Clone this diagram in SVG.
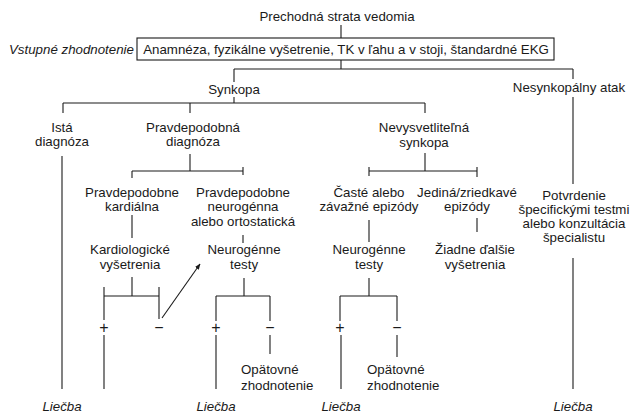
<svg xmlns="http://www.w3.org/2000/svg" width="630" height="413" viewBox="0 0 630 413">
<defs>
<style>
text{font-family:"Liberation Sans",Arial,sans-serif;font-size:13.3px;fill:#1a1a1a;text-anchor:middle}
.i{font-style:italic}
.l{text-anchor:start}
.s{font-size:16px}
.c line,.c path{stroke:#1a1a1a;stroke-width:1.1;fill:none}
.b{fill:#fff;stroke:#1a1a1a;stroke-width:1.1}
</style>
<marker id="ah" viewBox="0 0 10 10" refX="9" refY="5" markerWidth="6" markerHeight="6" orient="auto" markerUnits="userSpaceOnUse">
<path d="M0,1 L10,5 L0,9 z" fill="#1a1a1a"/>
</marker>
</defs>
<rect width="630" height="413" fill="#fff"/>
<g class="c" id="connectors">
<line x1="341" y1="25" x2="341" y2="38"/>
<line x1="341" y1="60" x2="341" y2="69"/>
<line x1="234" y1="69" x2="573" y2="69"/>
<line x1="234" y1="69" x2="234" y2="82"/>
<line x1="573" y1="69" x2="573" y2="79"/>
<line x1="234" y1="97" x2="234" y2="103"/>
<line x1="63" y1="103" x2="425" y2="103"/>
<line x1="63" y1="103" x2="63" y2="113"/>
<line x1="190" y1="103" x2="190" y2="113"/>
<line x1="425" y1="103" x2="425" y2="113"/>
<line x1="573" y1="97" x2="573" y2="184"/>
<line x1="62" y1="156" x2="62" y2="389"/>
<line x1="190" y1="154" x2="190" y2="171"/>
<line x1="132" y1="171" x2="243" y2="171"/>
<line x1="132" y1="171" x2="132" y2="178"/>
<line x1="243" y1="167" x2="243" y2="175"/>
<line x1="425" y1="153" x2="425" y2="171"/>
<line x1="369" y1="171" x2="477" y2="171"/>
<line x1="369" y1="167" x2="369" y2="176"/>
<line x1="477" y1="167" x2="477" y2="177"/>
<line x1="132" y1="215" x2="132" y2="238"/>
<line x1="243" y1="235" x2="243" y2="243"/>
<line x1="369" y1="220" x2="369" y2="242"/>
<line x1="477" y1="218" x2="477" y2="232"/>
<line x1="573" y1="258" x2="573" y2="389"/>
<line x1="132" y1="277" x2="132" y2="296"/>
<line x1="104" y1="296" x2="159" y2="296"/>
<line x1="104" y1="287" x2="104" y2="320"/>
<line x1="159" y1="287" x2="159" y2="319"/>
<line x1="244" y1="278" x2="244" y2="296"/>
<line x1="216" y1="296" x2="270" y2="296"/>
<line x1="216" y1="296" x2="216" y2="321"/>
<line x1="270" y1="296" x2="270" y2="321"/>
<line x1="369" y1="278" x2="369" y2="296"/>
<line x1="340" y1="296" x2="397" y2="296"/>
<line x1="340" y1="296" x2="340" y2="321"/>
<line x1="397" y1="296" x2="397" y2="321"/>
<line x1="104" y1="335" x2="104" y2="389"/>
<line x1="216" y1="335" x2="216" y2="389"/>
<line x1="341" y1="335" x2="341" y2="389"/>
<line x1="270" y1="335" x2="270" y2="354"/>
<line x1="397" y1="335" x2="397" y2="357"/>
<line x1="162" y1="318" x2="200" y2="264" marker-end="url(#ah)"/>
</g>
<g id="title"><text x="337" y="21">Prechodná strata vedomia</text></g>
<g id="vstupne"><text class="i l" x="9" y="54">Vstupné zhodnotenie</text></g>
<g id="box"><rect class="b" x="137" y="38" width="417" height="22"/><text x="346" y="54">Anamnéza, fyzikálne vyšetrenie, TK v ľahu a v stoji, štandardné EKG</text></g>
<g id="synkopa"><text x="234" y="94">Synkopa</text></g>
<g id="nesynkopalny"><text x="569" y="92">Nesynkopálny atak</text></g>
<g id="ista"><text x="62" y="132">Istá</text><text x="62" y="146">diagnóza</text></g>
<g id="pravdepodobna"><text x="193" y="132">Pravdepodobná</text><text x="193" y="146">diagnóza</text></g>
<g id="nevysvetlitelna"><text x="424" y="132">Nevysvetliteľná</text><text x="424" y="147">synkopa</text></g>
<g id="kardialna"><text x="132" y="197">Pravdepodobne</text><text x="132" y="211">kardiálna</text></g>
<g id="neurogenna"><text x="243" y="197">Pravdepodobne</text><text x="243" y="211">neurogénna</text><text x="243" y="226">alebo ortostatická</text></g>
<g id="caste"><text x="369" y="197">Časté alebo</text><text x="369" y="211">závažné epizódy</text></g>
<g id="jedina"><text x="467" y="197">Jediná/zriedkavé</text><text x="467" y="211">epizódy</text></g>
<g id="potvrdenie"><text x="574" y="200">Potvrdenie</text><text x="574" y="214">špecifickými testmi</text><text x="574" y="228">alebo konzultácia</text><text x="574" y="242">špecialistu</text></g>
<g id="kardiologicke"><text x="130" y="254">Kardiologické</text><text x="130" y="269">vyšetrenia</text></g>
<g id="neurotesty1"><text x="244" y="254">Neurogénne</text><text x="244" y="269">testy</text></g>
<g id="neurotesty2"><text x="369" y="254">Neurogénne</text><text x="369" y="269">testy</text></g>
<g id="ziadne"><text x="475" y="254">Žiadne ďalšie</text><text x="475" y="269">vyšetrenia</text></g>
<g id="signs">
<text class="s" x="104" y="333">+</text><text class="s" x="159" y="333">−</text>
<text class="s" x="216" y="333">+</text><text class="s" x="270" y="333">−</text>
<text class="s" x="340" y="333">+</text><text class="s" x="397" y="333">−</text>
</g>
<g id="opat1"><text class="l" x="241" y="374">Opätovné</text><text class="l" x="241" y="390">zhodnotenie</text></g>
<g id="opat2"><text class="l" x="367" y="374">Opätovné</text><text class="l" x="367" y="390">zhodnotenie</text></g>
<g id="liecba1"><text class="i" x="62" y="411">Liečba</text></g>
<g id="liecba2"><text class="i" x="216" y="411">Liečba</text></g>
<g id="liecba3"><text class="i" x="341" y="411">Liečba</text></g>
<g id="liecba4"><text class="i" x="573" y="411">Liečba</text></g>
</svg>
